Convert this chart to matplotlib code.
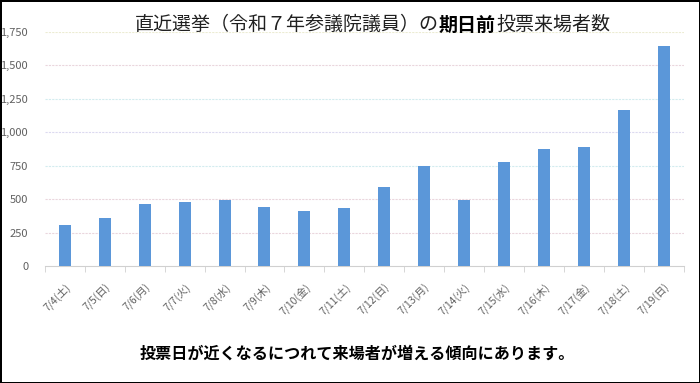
import matplotlib
matplotlib.use("Agg")
import matplotlib.pyplot as plt
from matplotlib.ticker import FuncFormatter, MultipleLocator, FixedLocator

plt.rcParams['font.family'] = ['Noto Sans CJK JP', 'DejaVu Sans']

# data
dates = ["7/4(土)", "7/5(日)", "7/6(月)", "7/7(火)", "7/8(水)", "7/9(木)", "7/10(金)", "7/11(土)",
         "7/12(日)", "7/13(月)", "7/14(火)", "7/15(水)", "7/16(木)", "7/17(金)", "7/18(土)", "7/19(日)"]
visitors = [310, 362, 466, 481, 495, 443, 413, 430, 592, 745, 497, 780, 878, 892, 1170, 1645]

title_parts = [("直近選挙（令和７年参議院議員）の", "normal"), ("期日前", "bold"), ("投票来場者数", "normal")]
note = "投票日が近くなるにつれて来場者が増える傾向にあります。"

bar_color = "#5b97d9"
grid_colors = ["#ead6dd", "#ead6dd", "#d3ecef", "#dcdaf0", "#d3ecef", "#ead6dd", "#ececd3"]

fig = plt.figure(figsize=(7, 3.83), dpi=100, edgecolor="black", linewidth=2)
ax = fig.add_axes([0.064, 0.3055, 0.913, 0.611])

x = range(len(dates))
ax.bar(x, visitors, width=0.3, color=bar_color, zorder=3)

ax.set_xlim(-0.5, len(dates) - 0.5)
ax.set_ylim(0, 1750)
ax.yaxis.set_major_locator(MultipleLocator(250))
ax.yaxis.set_major_formatter(FuncFormatter(lambda v, p: f"{int(v):,}"))

# dashed gridlines
for i, yv in enumerate(range(250, 1751, 250)):
    ax.axhline(yv, color=grid_colors[i], lw=0.8, ls=(0, (2, 1)), zorder=1)

for s in ["top", "right", "left"]:
    ax.spines[s].set_visible(False)
ax.spines["bottom"].set_color("#d0d0d0")

ax.set_xticks(list(x))
ax.set_xticklabels(dates, rotation=45, ha="right", rotation_mode="anchor",
                   fontsize=7.5, color="#606060")
ax.tick_params(axis="x", length=0, pad=11)
ax.xaxis.set_minor_locator(FixedLocator([i - 0.5 for i in range(len(dates) + 1)]))
ax.tick_params(axis="x", which="minor", length=4, color="#d0d0d0")
ax.tick_params(axis="y", length=0, pad=12, labelsize=8, labelcolor="#606060")

# title with bold part
t = fig.text(135 / 700, 1 - 30 / 383, title_parts[0][0], fontsize=13.7,
             fontweight=title_parts[0][1], color="#202020", va="baseline")
for txt, w in title_parts[1:]:
    t = ax.annotate(txt, xy=(1, 0), xycoords=t, va="bottom", ha="left",
                    fontsize=13.7, fontweight=w, color="#202020" if w == "normal" else "black")

fig.text(0.511, 1 - 354 / 383, note, ha="center", va="center", fontsize=11.6, fontweight="bold")

fig.savefig("out.png", dpi=100)
